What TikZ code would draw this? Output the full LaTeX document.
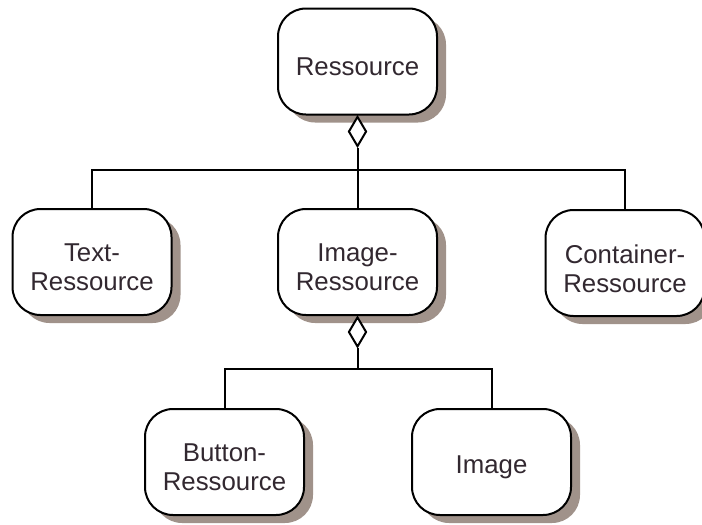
\documentclass[tikz,border=0pt]{standalone}
\usepackage{fontspec}
\setmainfont{Liberation Sans}
\usetikzlibrary{shapes.geometric,shadows}
\definecolor{shadowcol}{RGB}{160,146,138}
\definecolor{textcol}{RGB}{50,40,48}
\tikzset{
  classbox/.style={draw=black, line width=2pt, fill=white, rounded corners=28pt,
    minimum width=159pt, minimum height=106pt, inner sep=0pt,
    general shadow={shadow xshift=9pt, shadow yshift=-8pt, fill=shadowcol}},
  classtext/.style={align=center, text=textcol, inner sep=0pt, yshift=-5.5pt,
    font=\fontsize{25.8}{29}\selectfont},
  aggr/.style={diamond, draw=black, line width=2pt, fill=white, inner sep=0pt,
    minimum width=18pt, minimum height=30pt, anchor=north},
  link/.style={draw=black, line width=2pt}
}
\begin{document}
\begin{tikzpicture}[x=1pt, y=-1pt]
  \useasboundingbox (0,0) rectangle (702,525);
  % classes
  \node[classbox, label={[classtext]center:Ressource}]            (res)  at (357.5,61.5) {};
  \node[classbox, label={[classtext]center:Text-\\Ressource}]      (txt)  at (92,262)     {};
  \node[classbox, label={[classtext]center:Image-\\Ressource}]     (imgr) at (357.5,262)  {};
  \node[classbox, label={[classtext]center:Container-\\Ressource}] (cont) at (625,263)    {};
  \node[classbox, label={[classtext]center:Button-\\Ressource}]    (btn)  at (224.5,462)  {};
  \node[classbox, label={[classtext]center:Image}]                 (img)  at (491.5,462)  {};
  % aggregation diamonds
  \node[aggr] (d1) at (res.south) {};
  \node[aggr] (d2) at (imgr.south) {};
  % bus coordinates
  \coordinate (bus1) at (357.5,170);
  \coordinate (bus2) at (357.5,369);
  % connectors
  \draw[link] (d1.south) -- (bus1);
  \draw[link] (bus1) -| (txt.north);
  \draw[link] (bus1) -| (cont.north);
  \draw[link] (bus1) -- (imgr.north);
  \draw[link] (d2.south) -- (bus2);
  \draw[link] (bus2) -| (btn.north);
  \draw[link] (bus2) -| (img.north);
\end{tikzpicture}
\end{document}
